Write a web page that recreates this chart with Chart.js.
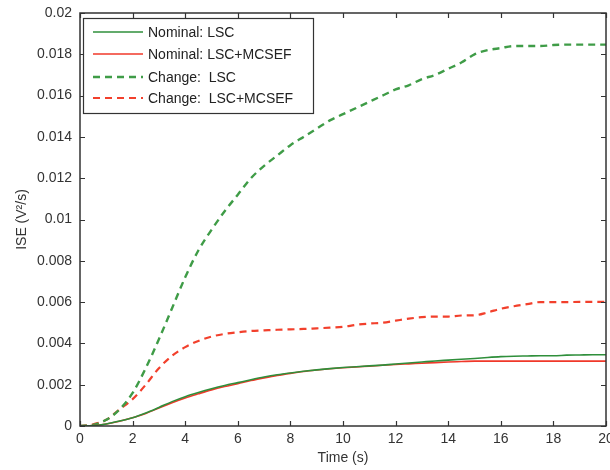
<!DOCTYPE html>
<html>
<head>
<meta charset="utf-8">
<script src="https://cdn.jsdelivr.net/npm/chart.js@4/dist/chart.umd.min.js"></script>
<style>
  html, body { margin: 0; padding: 0; background: #fff; }
  #wrap { width: 610px; height: 470px; }
</style>
</head>
<body>
<div id="wrap"><canvas id="iseChart" width="610" height="470"></canvas></div>
<script>
// ==== Data ====
const timeS = [0, 0.5, 1, 1.5, 2, 2.5, 3, 3.5, 4, 4.5, 5, 5.5, 6, 6.5, 7, 7.5, 8, 8.5, 9, 9.5, 10,
  10.5, 11, 11.5, 12, 12.5, 13, 13.5, 14, 14.5, 15, 15.5, 16, 16.5, 17, 17.5, 18, 18.5, 19, 19.5, 20];

const nominalLsc = [0, 0.00002, 0.0001, 0.00024, 0.0004, 0.00063, 0.0009, 0.00118, 0.00142, 0.00162, 0.0018,
  0.00196, 0.0021, 0.00224, 0.00237, 0.00248, 0.00257, 0.00265, 0.00272, 0.00278, 0.00283,
  0.00287, 0.00291, 0.00295, 0.003, 0.00305, 0.0031, 0.00315, 0.00319, 0.00323, 0.00327,
  0.00332, 0.00336, 0.00338, 0.00339, 0.0034, 0.0034, 0.00343, 0.00344, 0.00345, 0.00345];

const nominalMcsef = [0, 0.00002, 0.0001, 0.00023, 0.0004, 0.00061, 0.00087, 0.00113, 0.00136, 0.00156, 0.00175,
  0.00191, 0.00205, 0.0022, 0.00233, 0.00245, 0.00255, 0.00264, 0.00271, 0.00277, 0.00282,
  0.00286, 0.0029, 0.00294, 0.00298, 0.00301, 0.00304, 0.00307, 0.0031, 0.00312, 0.00314,
  0.00314, 0.00314, 0.00314, 0.00314, 0.00314, 0.00314, 0.00314, 0.00314, 0.00314, 0.00314];

const changeLsc = [0, 0.00005, 0.0003, 0.0008, 0.0016, 0.0028, 0.0042, 0.0057, 0.0072, 0.0085, 0.0095,
  0.0104, 0.0112, 0.012, 0.0126, 0.0131, 0.0136, 0.014, 0.0144, 0.0148, 0.0151,
  0.0154, 0.0157, 0.016, 0.0163, 0.0165, 0.0168, 0.017, 0.0173, 0.0176, 0.018,
  0.0182, 0.0183, 0.0184, 0.0184, 0.0184, 0.01845, 0.01847, 0.01847, 0.01847, 0.01847];

const changeMcsef = [0, 0.00008, 0.0003, 0.0008, 0.0013, 0.002, 0.0028, 0.0034, 0.00382, 0.00412, 0.00433,
  0.00446, 0.00454, 0.0046, 0.00463, 0.00466, 0.00468, 0.0047, 0.00473, 0.00476, 0.0048,
  0.0049, 0.00496, 0.005, 0.0051, 0.0052, 0.00527, 0.0053, 0.0053, 0.00535, 0.00536,
  0.0055, 0.00568, 0.0058, 0.0059, 0.006, 0.006, 0.006, 0.00601, 0.00601, 0.00601];

const seriesNames = ["Nominal: LSC", "Nominal: LSC+MCSEF", "Change:  LSC", "Change:  LSC+MCSEF"];

// ==== Helpers ====
const GREEN = "#2f8f3b";
const GREEN_D = "#3f9c47";
const RED = "#f0382a";
const RED_D = "#f2402c";
const AXIS = "#333";
const FONT = "'Liberation Sans', Arial, sans-serif";

const pts = (vals) => timeS.map((t, i) => ({ x: t, y: vals[i] }));

function fmtTick(v) {
  return String(Number(v.toFixed(4)));
}

// box, inward ticks and legend, drawn the old plotting-tool way
const boxPlugin = {
  id: "boxPlugin",
  afterDraw(chart) {
    const { ctx, chartArea: a, scales: { x, y } } = chart;
    ctx.save();
    ctx.strokeStyle = AXIS;
    ctx.lineWidth = 1.5;
    ctx.strokeRect(a.left, a.top, a.right - a.left, a.bottom - a.top);

    ctx.lineWidth = 1.2;
    ctx.beginPath();
    x.ticks.forEach(t => {
      const px = Math.round(x.getPixelForValue(t.value)) + 0.5;
      ctx.moveTo(px, a.bottom); ctx.lineTo(px, a.bottom - 5);
      ctx.moveTo(px, a.top); ctx.lineTo(px, a.top + 5);
    });
    y.ticks.forEach(t => {
      const py = Math.round(y.getPixelForValue(t.value)) + 0.5;
      ctx.moveTo(a.left, py); ctx.lineTo(a.left + 5, py);
      ctx.moveTo(a.right, py); ctx.lineTo(a.right - 5, py);
    });
    ctx.stroke();

    // legend
    const lx = 83, ly = 18, lw = 230, lh = 95;
    ctx.fillStyle = "#fff";
    ctx.fillRect(lx, ly, lw, lh);
    ctx.lineWidth = 1.2;
    ctx.strokeStyle = AXIS;
    ctx.strokeRect(lx + 0.5, ly + 0.5, lw, lh);
    const rows = [32, 54, 77, 98];
    ctx.font = "14px " + FONT;
    ctx.textBaseline = "middle";
    chart.data.datasets.forEach((ds, i) => {
      ctx.strokeStyle = ds.borderColor;
      ctx.lineWidth = ds.borderWidth;
      ctx.setLineDash(ds.borderDash || []);
      ctx.beginPath();
      ctx.moveTo(93, rows[i]); ctx.lineTo(143, rows[i]);
      ctx.stroke();
      ctx.setLineDash([]);
      ctx.fillStyle = "#222";
      ctx.fillText(ds.label, 148, rows[i] + 1);
    });
    ctx.restore();
  }
};

const line = (label, data, color, width, dash) => ({
  label, data: pts(data), borderColor: color, backgroundColor: color,
  borderWidth: width, borderDash: dash, pointRadius: 0,
  cubicInterpolationMode: "monotone", fill: false
});

new Chart(document.getElementById("iseChart"), {
  type: "line",
  data: {
    datasets: [
      line(seriesNames[0], nominalLsc, GREEN, 1.6),
      line(seriesNames[1], nominalMcsef, RED, 1.6),
      line(seriesNames[2], changeLsc, GREEN_D, 2.4, [7, 5]),
      line(seriesNames[3], changeMcsef, RED_D, 2.2, [7, 5])
    ]
  },
  options: {
    responsive: false,
    animation: false,
    layout: { padding: { left: 0, right: 4, top: 13, bottom: 0 } },
    plugins: { legend: { display: false }, tooltip: { enabled: false } },
    scales: {
      x: {
        type: "linear", min: 0, max: 20,
        ticks: { stepSize: 2, padding: 5, color: AXIS, font: { family: FONT, size: 14 }, maxRotation: 0 },
        grid: { drawOnChartArea: false, drawTicks: false },
        border: { display: false },
        title: { display: true, text: "Time (s)", color: AXIS, font: { family: FONT, size: 14 }, padding: { top: 0, bottom: 3 } },
        afterFit(s) { s.height = 44; s.paddingLeft = 0; s.paddingRight = 0; }
      },
      y: {
        min: 0, max: 0.02,
        ticks: { stepSize: 0.002, padding: 8, color: AXIS, font: { family: FONT, size: 14 }, callback: fmtTick },
        grid: { drawOnChartArea: false, drawTicks: false },
        border: { display: false },
        title: { display: true, text: "ISE (V²/s)", color: AXIS, font: { family: FONT, size: 14 }, padding: { top: 14, bottom: 0 } },
        afterFit(s) { s.width = 80; s.paddingTop = 0; s.paddingBottom = 0; }
      }
    }
  },
  plugins: [boxPlugin]
});
</script>
</body>
</html>
